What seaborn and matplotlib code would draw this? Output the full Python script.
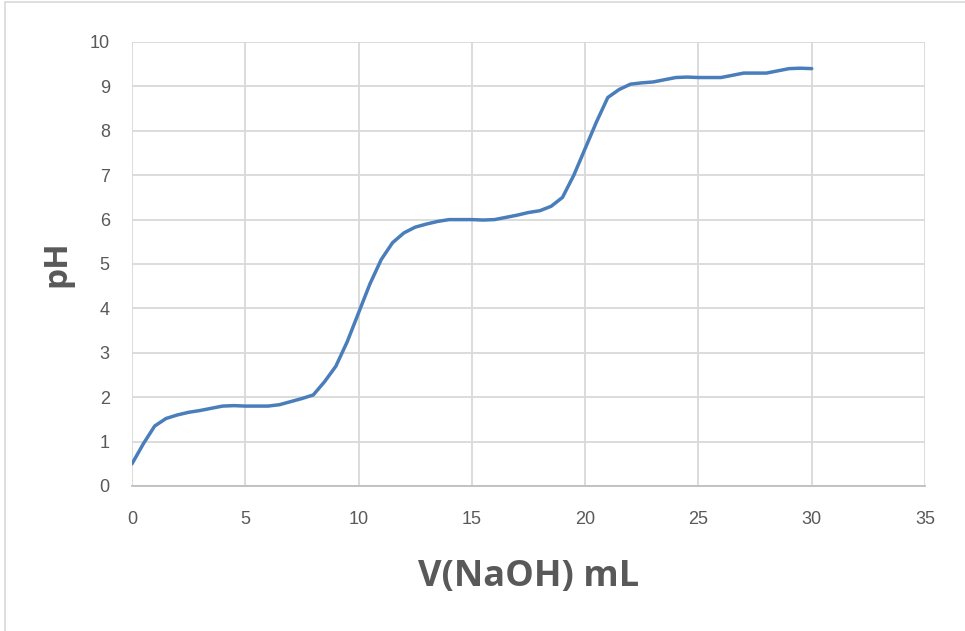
import matplotlib
matplotlib.use("Agg")
import matplotlib.pyplot as plt
import matplotlib.font_manager as fm
import seaborn as sns
import pandas as pd
from matplotlib.patches import Rectangle

# ---- data (every 0.5 mL) ----
v_naoh = [0, 0.5, 1, 1.5, 2, 2.5, 3, 3.5, 4, 4.5, 5, 5.5, 6, 6.5, 7, 7.5,
          8, 8.5, 9, 9.5, 10, 10.5, 11, 11.5, 12, 12.5, 13, 13.5, 14, 14.5, 15, 15.5,
          16, 16.5, 17, 17.5, 18, 18.5, 19, 19.5, 20, 20.5, 21, 21.5, 22, 22.5, 23, 23.5,
          24, 24.5, 25, 25.5, 26, 26.5, 27, 27.5, 28, 28.5, 29, 29.5, 30]
ph = [0.5, 0.95, 1.35, 1.52, 1.6, 1.66, 1.7, 1.75, 1.8, 1.81, 1.8, 1.8, 1.8, 1.83, 1.9, 1.97,
      2.05, 2.35, 2.7, 3.25, 3.9, 4.55, 5.1, 5.48, 5.7, 5.83, 5.9, 5.96, 6.0, 6.0, 6.0, 5.99,
      6.0, 6.05, 6.1, 6.16, 6.2, 6.3, 6.5, 7.0, 7.6, 8.2, 8.75, 8.93, 9.05, 9.08, 9.1, 9.15,
      9.2, 9.21, 9.2, 9.2, 9.2, 9.25, 9.3, 9.3, 9.3, 9.35, 9.4, 9.41, 9.4]
x_ticks = [0, 5, 10, 15, 20, 25, 30, 35]
y_ticks = [0, 1, 2, 3, 4, 5, 6, 7, 8, 9, 10]

df = pd.DataFrame({"V": v_naoh, "pH": ph})

sns.set_theme(style="white")
names = {f.name for f in fm.fontManager.ttflist}
tick_font = "Liberation Sans Narrow" if "Liberation Sans Narrow" in names else "Liberation Sans"
plt.rcParams["font.family"] = [tick_font, "DejaVu Sans"]

TXT = "#595959"
GRID = "#d9d9d9"

fig = plt.figure(figsize=(9.65, 6.31), dpi=100)
ax = fig.add_axes([132 / 965, 1 - 486 / 631, (925 - 132) / 965, (486 - 42) / 631])

sns.lineplot(data=df, x="V", y="pH", ax=ax, color="#4a7ebb", linewidth=2.5,
             solid_joinstyle="round", solid_capstyle="round")

ax.set_xlim(0, 35)
ax.set_ylim(0, 10)
ax.set_xticks(x_ticks)
ax.set_yticks(y_ticks)
ax.grid(True, color=GRID, linewidth=1.3)
ax.set_axisbelow(True)
for side in ["top", "right", "left"]:
    ax.spines[side].set_visible(False)
ax.spines["bottom"].set_color("#bfbfbf")
ax.spines["bottom"].set_linewidth(1.3)
ax.tick_params(axis="both", length=0, labelsize=13, colors=TXT)
ax.tick_params(axis="x", pad=18)
ax.tick_params(axis="y", pad=16)

ax.set_xlabel("V(NaOH) mL", fontsize=26, fontweight="bold", color=TXT,
              family=["Open Sans", "DejaVu Sans"], labelpad=22)
ax.set_ylabel("pH", fontsize=24, fontweight="bold", color=TXT,
              family=["Open Sans", "DejaVu Sans"], labelpad=12)

# outer chart border
fig.patches.append(Rectangle((5 / 965, -0.01), 1.0, 1 - 2 / 631 + 0.01,
                             transform=fig.transFigure, fill=False,
                             edgecolor="#d9d9d9", linewidth=1.2))

fig.savefig("out.png", dpi=100)
